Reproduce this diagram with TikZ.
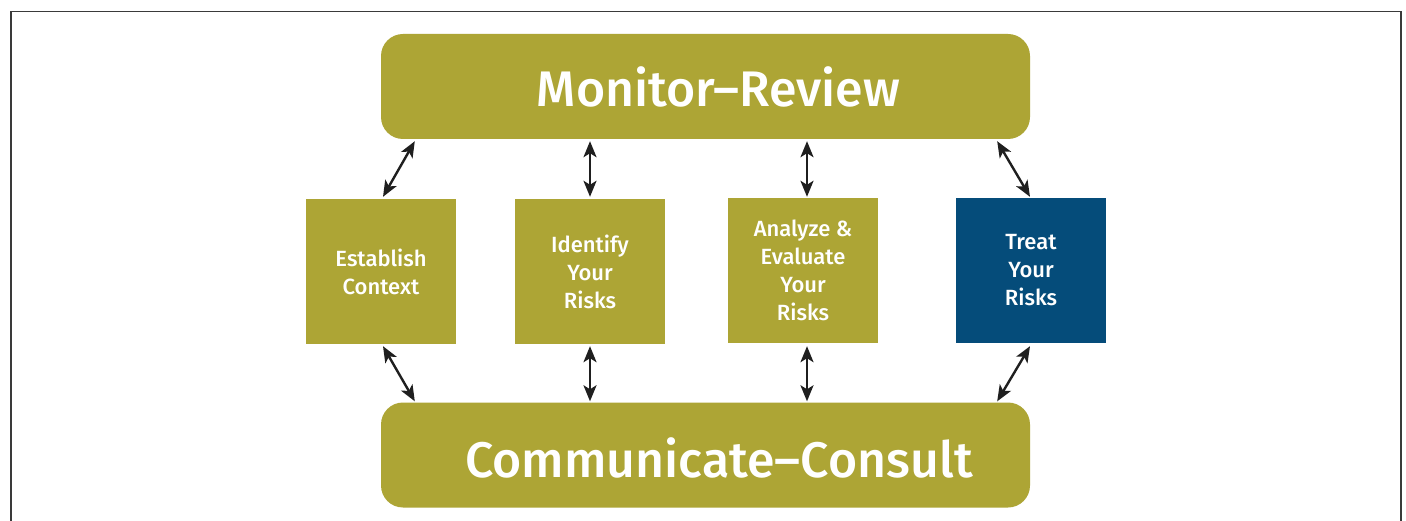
\documentclass[tikz,border=0pt]{standalone}
\usepackage{fontspec}
\setmainfont{Fira Sans}[BoldFont={Fira Sans Medium}]
\usetikzlibrary{arrows.meta,calc}
\definecolor{olivebox}{HTML}{ADA535}
\definecolor{navybox}{HTML}{054C7A}
\definecolor{framegray}{HTML}{3A3A3A}
\tikzset{
  bigbox/.style={fill=olivebox, draw=none, rounded corners=22pt, minimum width=649pt, minimum height=105pt, inner sep=0pt},
  bigtext/.style={text=white, font=\fontsize{50}{56}\selectfont\bfseries, inner sep=0pt},
  smallbox/.style={fill=olivebox, draw=none, minimum width=150pt, minimum height=145pt, inner sep=0pt, text=white, align=center, font=\fontsize{22}{28}\selectfont\bfseries},
  bluebox/.style={smallbox, fill=navybox},
  link/.style={draw=black!88, line width=2.4pt, {Stealth[length=16pt,width=13pt,inset=4pt]}-{Stealth[length=16pt,width=13pt,inset=4pt]}},
  frameline/.style={draw=framegray, line width=1.2pt}
}
\begin{document}
\begin{tikzpicture}[x=1pt,y=-1pt]
\useasboundingbox[fill=white] (0,0) rectangle (1406,521);
\draw[frameline] (11,521) -- (11,11.5) -- (1401,11.5) -- (1401,521);

\node[bigbox] (mr) at (705.5,86.5) {};
\node[bigtext] (mrt) at (718.5,87) {Monitor–Review};
\node[bigbox] (cc) at (705.5,455) {};
\node[bigtext] (cct) at (719,458) {Communicate–Consult};

\node[smallbox] (b1) at (381,271.5) {Establish\\Context};
\node[smallbox] (b2) at (590,271.5) {Identify\\Your\\Risks};
\node[smallbox] (b3) at (803,270.5) {Analyze \&\\Evaluate\\Your\\Risks};
\node[bluebox] (b4) at (1031,270.5) {Treat\\Your\\Risks};

\draw[link] ($(mr.south west)+(34,2)$) -- ($(b1.north)+(2,-2)$);
\draw[link] ($(b2.north |- mr.south)+(0,2)$) -- ($(b2.north)+(0,-2)$);
\draw[link] ($(b3.north |- mr.south)+(4,2)$) -- ($(b3.north)+(4,-1)$);
\draw[link] ($(mr.south east)+(-33,2)$) -- ($(b4.north)+(-1,-1)$);

\draw[link] ($(b1.south)+(2,2)$) -- ($(cc.north west)+(34,-1)$);
\draw[link] ($(b2.south)+(0,2)$) -- ($(b2.south |- cc.north)+(0,-1)$);
\draw[link] ($(b3.south)+(4,3)$) -- ($(b3.south |- cc.north)+(4,-1)$);
\draw[link] ($(b4.south)+(-1,3)$) -- ($(cc.north east)+(-33,-1)$);
\end{tikzpicture}
\end{document}
